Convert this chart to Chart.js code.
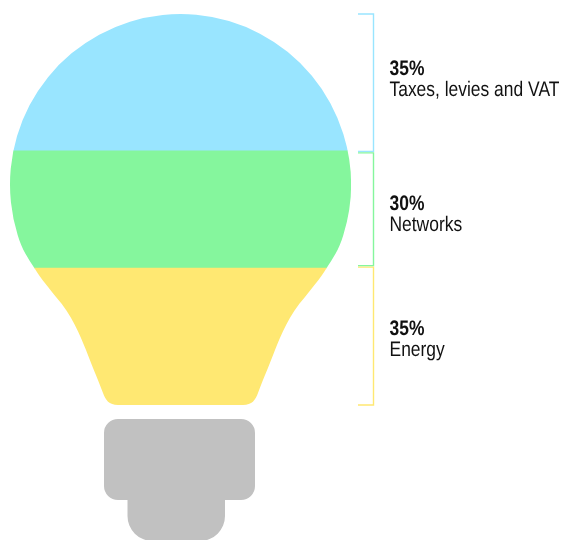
<!DOCTYPE html>
<html>
<head>
<meta charset="utf-8">
<style>
  html, body { margin: 0; padding: 0; background: #fff; overflow: hidden; }
  canvas { display: block; }
</style>
<script src="https://cdn.jsdelivr.net/npm/chart.js@4/dist/chart.umd.min.js"></script>
</head>
<body>
<canvas id="bulb" width="563" height="540"></canvas>
<script>
// share of the electricity price, stacked from the bottom of the bulb upwards
const categories = ['Electricity price'];
const bandNames = ['Energy', 'Networks', 'Taxes, levies and VAT'];
const bandValues = [35, 30, 35];
const bandColors = ['#ffe872', '#85f69d', '#99e5ff'];

// bulb glass: circle plus the neck, described down the left side
const CX = 180.5, CY = 184.5, R = 170.5;
const NECK_START_DY = 50.5;
const NECK = [
  [22, 250, 28, 258, 35, 269],
  [41, 279, 50, 289, 56, 297],
  [72, 315, 80, 335, 86, 350],
  [90, 361, 97, 377, 103, 393],
  [105.5, 400, 109, 405, 118, 405]
];

function bulbPath(ctx) {
  const a = Math.asin(NECK_START_DY / R);
  const x0 = CX - R * Math.cos(a), y0 = CY + NECK_START_DY;
  const mx = x => 2 * CX - x;
  ctx.beginPath();
  ctx.arc(CX, CY, R, Math.PI - a, a);
  NECK.forEach(s => ctx.bezierCurveTo(mx(s[0]), s[1], mx(s[2]), s[3], mx(s[4]), s[5]));
  ctx.lineTo(NECK[NECK.length - 1][4], NECK[NECK.length - 1][5]);
  for (let i = NECK.length - 1; i >= 0; i--) {
    const s = NECK[i];
    const prev = i > 0 ? [NECK[i - 1][4], NECK[i - 1][5]] : [x0, y0];
    ctx.bezierCurveTo(s[2], s[3], s[0], s[1], prev[0], prev[1]);
  }
  ctx.closePath();
}

// clip the stacked bar to the glass outline
const glassClip = {
  id: 'glassClip',
  beforeDatasetsDraw(chart) {
    const ctx = chart.ctx;
    ctx.save();
    bulbPath(ctx);
    ctx.clip();
  },
  afterDatasetsDraw(chart) {
    chart.ctx.restore();
  }
};

// screw cap below the glass
const bulbCap = {
  id: 'bulbCap',
  afterDraw(chart) {
    const ctx = chart.ctx;
    ctx.save();
    ctx.fillStyle = '#c1c1c1';
    ctx.beginPath();
    ctx.roundRect(104, 419, 151, 81, 14);
    ctx.roundRect(127.5, 490, 97.5, 51, [0, 0, 25, 25]);
    ctx.fill();
    ctx.restore();
  }
};

// bracket and two-line caption for every band
const BRACKET_LEFT = 358, BRACKET_RIGHT = 373.5;
const BRACKET_TOP_NUDGE = [-1, 2, 0];
const BRACKET_BOTTOM_NUDGE = [0, -2.5, 0.5];
const CAPTION_BASELINES = [335, 210, 75];
const CAPTION_X = 389.5, CAPTION_LINE = 21, CAPTION_SQUEEZE = 0.83;

function squeezedText(ctx, text, x, y, font) {
  ctx.save();
  ctx.translate(x, y);
  ctx.scale(CAPTION_SQUEEZE, 1);
  ctx.font = font;
  ctx.textRendering = 'geometricPrecision';
  ctx.fillText(text, 0, 0);
  ctx.restore();
}

const bandNotes = {
  id: 'bandNotes',
  afterDraw(chart) {
    const ctx = chart.ctx, y = chart.scales.y;
    let running = 0;
    bandValues.forEach((v, i) => {
      const bottom = y.getPixelForValue(running) + BRACKET_BOTTOM_NUDGE[i];
      const top = y.getPixelForValue(running + v) + BRACKET_TOP_NUDGE[i];
      running += v;
      ctx.save();
      ctx.strokeStyle = bandColors[i];
      ctx.lineWidth = 1.4;
      ctx.beginPath();
      ctx.moveTo(BRACKET_LEFT, top);
      ctx.lineTo(BRACKET_RIGHT, top);
      ctx.lineTo(BRACKET_RIGHT, bottom);
      ctx.lineTo(BRACKET_LEFT, bottom);
      ctx.stroke();
      ctx.fillStyle = '#111';
      ctx.textBaseline = 'alphabetic';
      squeezedText(ctx, v + '%', CAPTION_X, CAPTION_BASELINES[i], 'bold 21px "Liberation Sans"');
      squeezedText(ctx, bandNames[i], CAPTION_X, CAPTION_BASELINES[i] + CAPTION_LINE, '21px "Liberation Sans"');
      ctx.restore();
    });
  }
};

new Chart(document.getElementById('bulb').getContext('2d'), {
  type: 'bar',
  data: {
    labels: categories,
    datasets: bandNames.map((name, i) => ({
      label: name,
      data: [bandValues[i]],
      backgroundColor: bandColors[i],
      borderWidth: 0,
      barPercentage: 1,
      categoryPercentage: 1
    }))
  },
  options: {
    responsive: false,
    animation: false,
    layout: { padding: { left: 10, right: 212, top: 14, bottom: 135 } },
    plugins: { legend: { display: false }, tooltip: { enabled: false } },
    scales: {
      x: { stacked: true, display: false },
      y: { stacked: true, display: false, min: 0, max: 100 }
    }
  },
  plugins: [glassClip, bulbCap, bandNotes]
});
</script>
</body>
</html>
